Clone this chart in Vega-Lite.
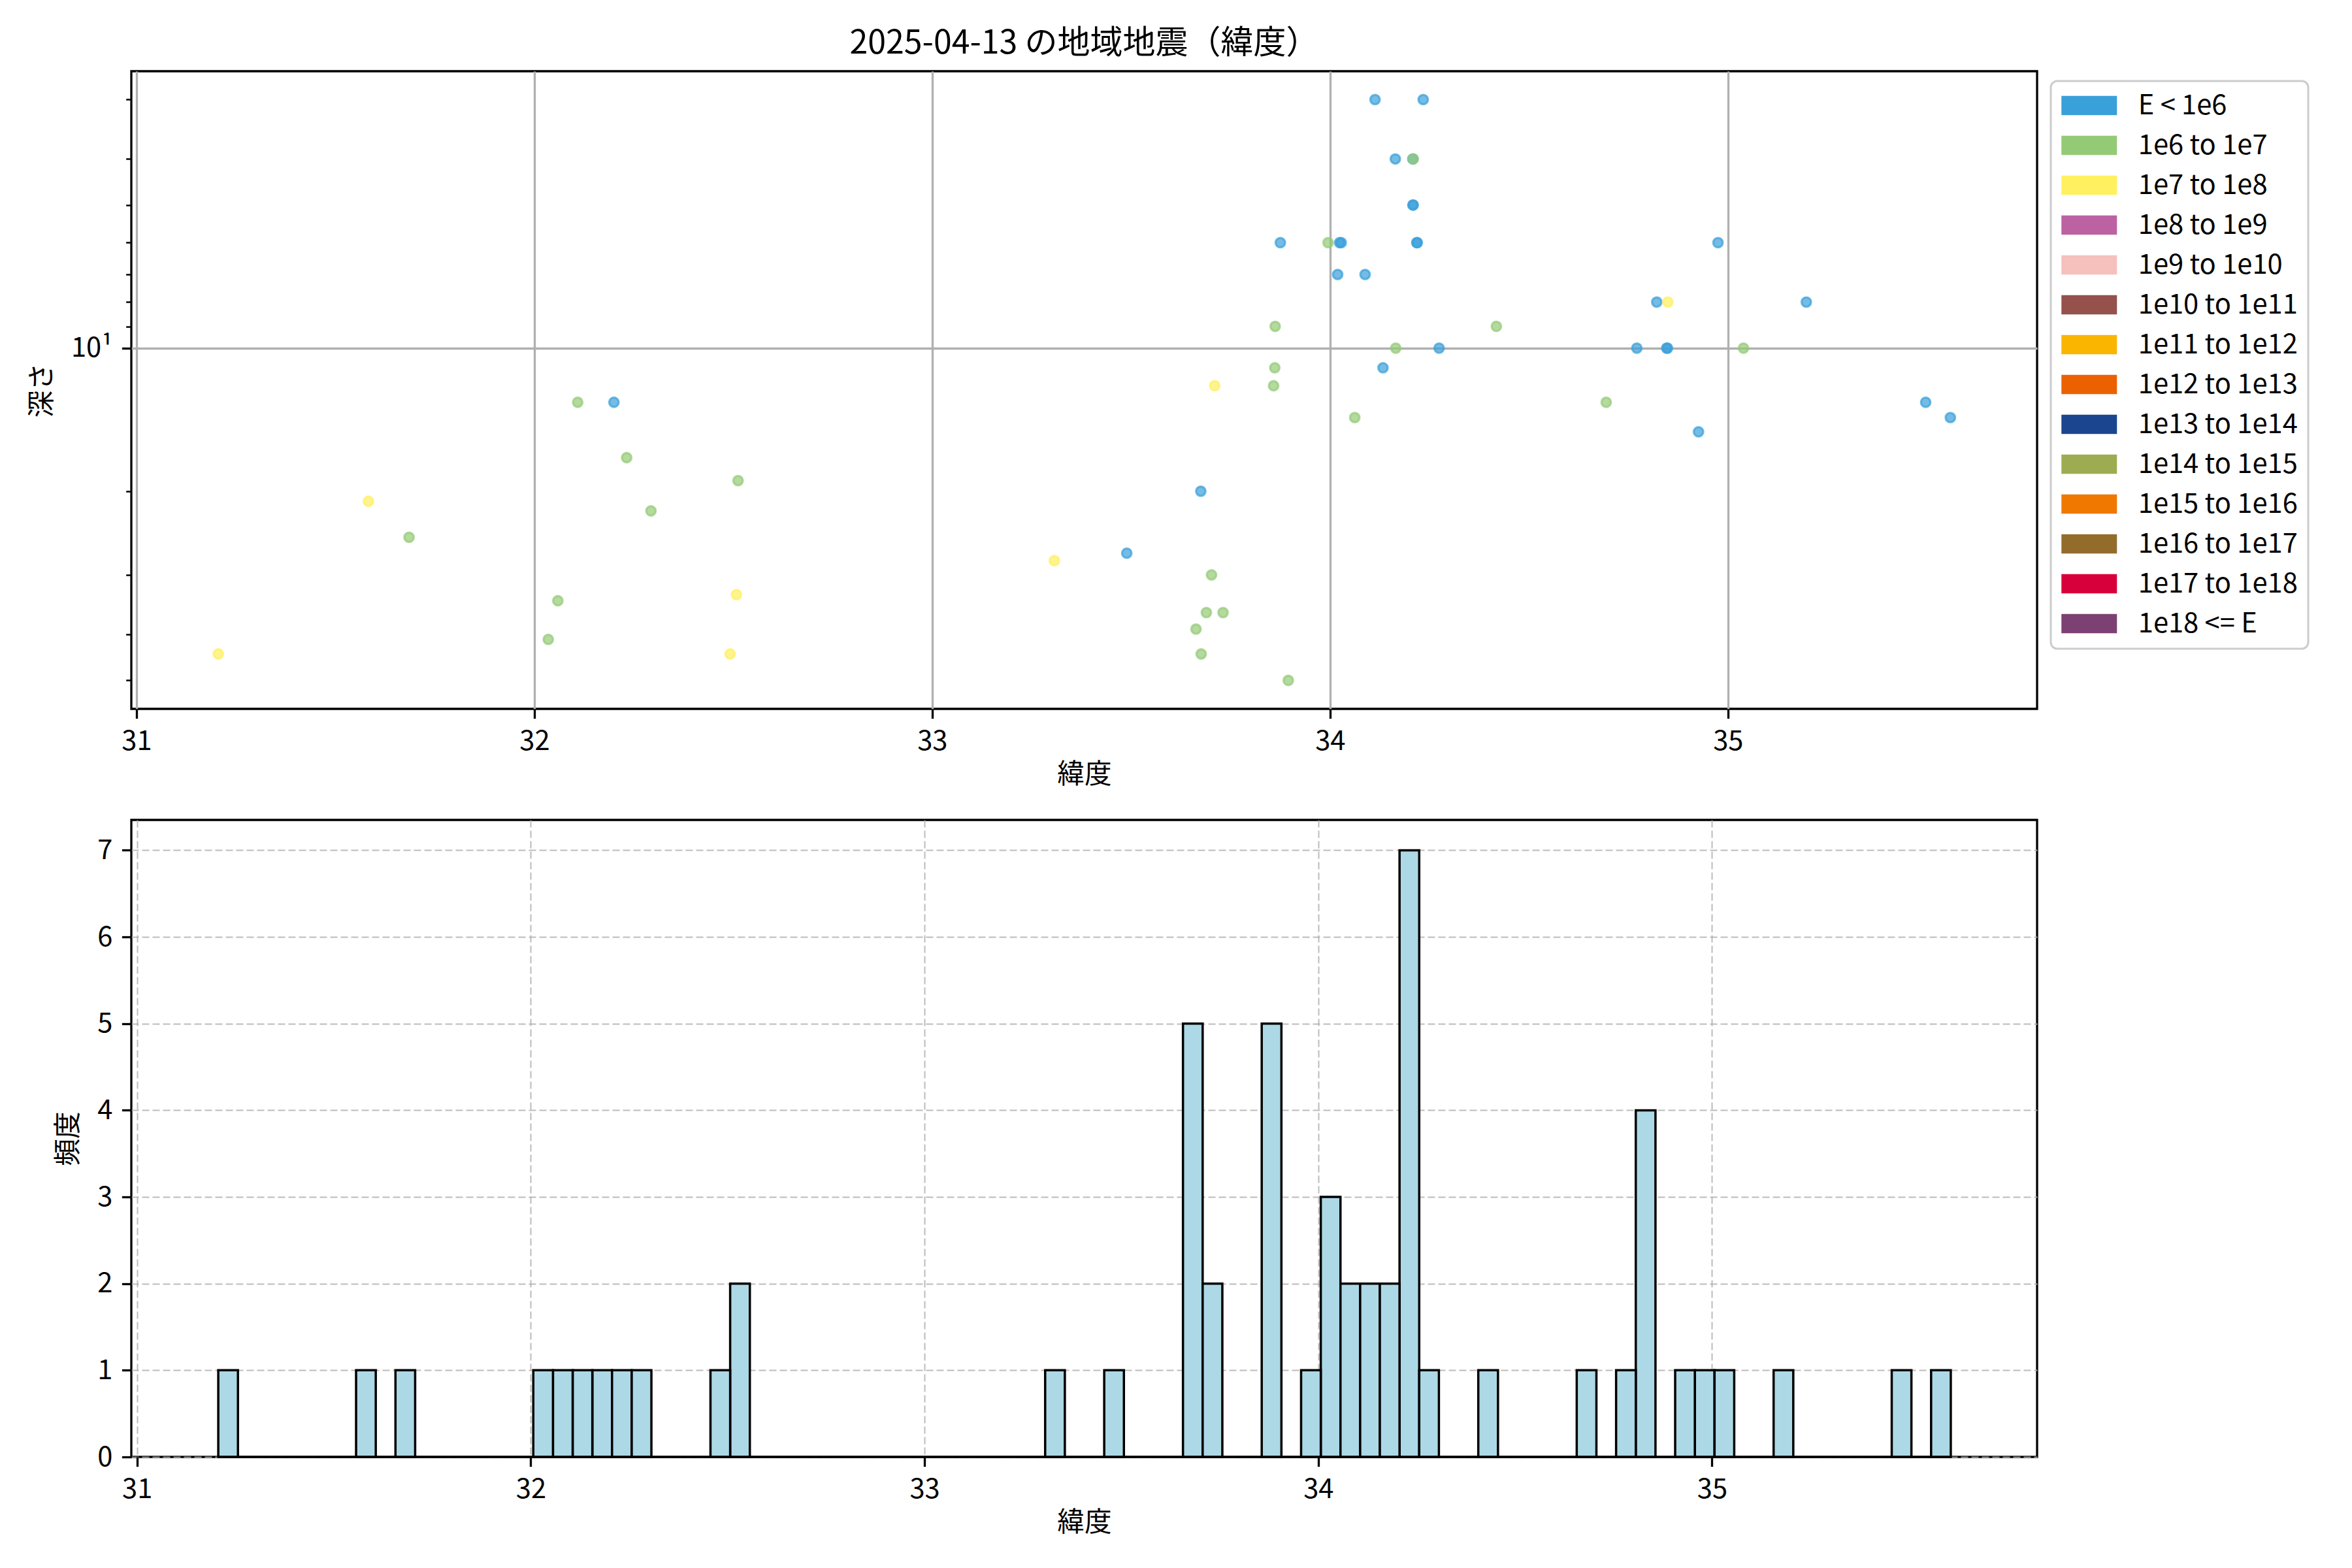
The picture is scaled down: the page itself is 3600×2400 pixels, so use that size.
{
  "$schema": "https://vega.github.io/schema/vega-lite/v6.json",
  "background": "white",
  "padding": {"left": 42, "top": 40, "right": 5, "bottom": 5},
  "config": {
    "font": "Noto Sans CJK JP",
    "view": {"stroke": "black", "strokeWidth": 3.3},
    "axis": {
      "labelFont": "Noto Sans CJK JP",
      "titleFont": "Noto Sans CJK JP",
      "labelFontSize": 41.7,
      "titleFontSize": 41.7,
      "titleFontWeight": "normal",
      "labelColor": "black",
      "titleColor": "black",
      "tickColor": "black",
      "domain": false,
      "tickSize": 14.6,
      "tickWidth": 3.3,
      "labelPadding": 14.6,
      "zindex": 1
    },
    "legend": {
      "labelFont": "Noto Sans CJK JP",
      "strokeWidth": 3
    }
  },
  "datasets": {
    "quakes": [
      {"lat": 32.200, "depth": 13, "class": "E < 1e6"},
      {"lat": 33.875, "depth": 6, "class": "E < 1e6"},
      {"lat": 34.024, "depth": 6, "class": "E < 1e6"},
      {"lat": 34.028, "depth": 6, "class": "E < 1e6"},
      {"lat": 34.019, "depth": 7, "class": "E < 1e6"},
      {"lat": 34.088, "depth": 7, "class": "E < 1e6"},
      {"lat": 33.675, "depth": 20, "class": "E < 1e6"},
      {"lat": 33.489, "depth": 27, "class": "E < 1e6"},
      {"lat": 34.113, "depth": 3, "class": "E < 1e6"},
      {"lat": 34.234, "depth": 3, "class": "E < 1e6"},
      {"lat": 34.164, "depth": 4, "class": "E < 1e6"},
      {"lat": 34.208, "depth": 4, "class": "E < 1e6"},
      {"lat": 34.208, "depth": 5, "class": "E < 1e6"},
      {"lat": 34.209, "depth": 5, "class": "E < 1e6"},
      {"lat": 34.218, "depth": 6, "class": "E < 1e6"},
      {"lat": 34.219, "depth": 6, "class": "E < 1e6"},
      {"lat": 34.975, "depth": 6, "class": "E < 1e6"},
      {"lat": 34.821, "depth": 8, "class": "E < 1e6"},
      {"lat": 35.197, "depth": 8, "class": "E < 1e6"},
      {"lat": 34.274, "depth": 10, "class": "E < 1e6"},
      {"lat": 34.771, "depth": 10, "class": "E < 1e6"},
      {"lat": 34.846, "depth": 10, "class": "E < 1e6"},
      {"lat": 34.848, "depth": 10, "class": "E < 1e6"},
      {"lat": 34.133, "depth": 11, "class": "E < 1e6"},
      {"lat": 34.926, "depth": 15, "class": "E < 1e6"},
      {"lat": 35.497, "depth": 13, "class": "E < 1e6"},
      {"lat": 35.559, "depth": 14, "class": "E < 1e6"},
      {"lat": 31.685, "depth": 25, "class": "1e6 to 1e7"},
      {"lat": 32.109, "depth": 13, "class": "1e6 to 1e7"},
      {"lat": 32.232, "depth": 17, "class": "1e6 to 1e7"},
      {"lat": 32.512, "depth": 19, "class": "1e6 to 1e7"},
      {"lat": 32.293, "depth": 22, "class": "1e6 to 1e7"},
      {"lat": 32.059, "depth": 34, "class": "1e6 to 1e7"},
      {"lat": 32.035, "depth": 41, "class": "1e6 to 1e7"},
      {"lat": 33.995, "depth": 6, "class": "1e6 to 1e7"},
      {"lat": 33.862, "depth": 9, "class": "1e6 to 1e7"},
      {"lat": 33.861, "depth": 11, "class": "1e6 to 1e7"},
      {"lat": 33.858, "depth": 12, "class": "1e6 to 1e7"},
      {"lat": 34.062, "depth": 14, "class": "1e6 to 1e7"},
      {"lat": 33.702, "depth": 30, "class": "1e6 to 1e7"},
      {"lat": 33.689, "depth": 36, "class": "1e6 to 1e7"},
      {"lat": 33.731, "depth": 36, "class": "1e6 to 1e7"},
      {"lat": 33.663, "depth": 39, "class": "1e6 to 1e7"},
      {"lat": 33.676, "depth": 44, "class": "1e6 to 1e7"},
      {"lat": 33.895, "depth": 50, "class": "1e6 to 1e7"},
      {"lat": 34.209, "depth": 4, "class": "1e6 to 1e7"},
      {"lat": 34.418, "depth": 9, "class": "1e6 to 1e7"},
      {"lat": 34.165, "depth": 10, "class": "1e6 to 1e7"},
      {"lat": 35.039, "depth": 10, "class": "1e6 to 1e7"},
      {"lat": 34.694, "depth": 13, "class": "1e6 to 1e7"},
      {"lat": 31.2056, "depth": 44, "class": "1e7 to 1e8"},
      {"lat": 31.583, "depth": 21, "class": "1e7 to 1e8"},
      {"lat": 32.508, "depth": 33, "class": "1e7 to 1e8"},
      {"lat": 32.492, "depth": 44, "class": "1e7 to 1e8"},
      {"lat": 33.710, "depth": 12, "class": "1e7 to 1e8"},
      {"lat": 33.307, "depth": 28, "class": "1e7 to 1e8"},
      {"lat": 34.849, "depth": 8, "class": "1e7 to 1e8"}
    ]
  },
  "spacing": 170,
  "bounds": "flush",
  "resolve": {"legend": {"color": "independent", "stroke": "independent"}},
  "vconcat": [
    {
      "width": 2917,
      "height": 976,
      "title": {
        "text": "2025-04-13 の地域地震（緯度）",
        "font": "Noto Sans CJK JP",
        "fontSize": 50,
        "fontWeight": "normal",
        "color": "black",
        "frame": "group",
        "anchor": "middle",
        "baseline": "alphabetic",
        "offset": -23
      },
      "data": {"name": "quakes"},
      "mark": {"type": "circle", "size": 211, "fillOpacity": 0.7, "strokeOpacity": 0.7, "strokeWidth": 3.3},
      "encoding": {
        "x": {
          "field": "lat", "type": "quantitative", "title": "緯度",
          "scale": {"domain": [30.987, 35.777], "nice": false, "zero": false},
          "axis": {"values": [31, 32, 33, 34, 35], "format": "d", "grid": true, "gridColor": "#b0b0b0", "gridWidth": 3.3, "titlePadding": 10}
        },
        "y": {
          "field": "depth", "type": "quantitative", "title": "深さ",
          "scale": {"type": "log", "domain": [2.615, 57.4], "reverse": true, "nice": false},
          "axis": {
            "values": [3, 4, 5, 6, 7, 8, 9, 10, 20, 30, 40, 50],
            "labelExpr": "datum.value == 10 ? '10¹' : ''",
            "labelOverlap": false,
            "tickSize": {"condition": {"test": "datum.value == 10", "value": 14.6}, "value": 8.3},
            "tickWidth": {"condition": {"test": "datum.value == 10", "value": 3.3}, "value": 2.5},
            "grid": true, "gridColor": "#b0b0b0", "gridWidth": 3.3,
            "gridOpacity": {"condition": {"test": "datum.value == 10", "value": 1}, "value": 0},
            "titlePadding": 22
          }
        },
        "color": {
          "field": "class", "type": "nominal", "title": null,
          "scale": {
            "domain": ["E < 1e6", "1e6 to 1e7", "1e7 to 1e8", "1e8 to 1e9", "1e9 to 1e10", "1e10 to 1e11", "1e11 to 1e12", "1e12 to 1e13", "1e13 to 1e14", "1e14 to 1e15", "1e15 to 1e16", "1e16 to 1e17", "1e17 to 1e18", "1e18 <= E"],
            "range": ["#3AA0DA", "#94CA76", "#FFF060", "#BC62A3", "#F6C0BC", "#95514C", "#F9B500", "#EB6100", "#1B468F", "#9DAC50", "#F07800", "#936C2C", "#D8003A", "#7C4172"]
          },
          "legend": {
            "orient": "none",
            "legendX": 2938,
            "legendY": 15,
            "symbolType": "M-2,-0.7L2,-0.7L2,0.7L-2,0.7Z",
            "symbolSize": 1806,
            "symbolOffset": 21.25,
            "symbolStrokeWidth": 0,
            "symbolOpacity": 1,
            "labelFontSize": 41.7,
            "labelColor": "black",
            "labelOffset": 53.5,
            "labelLimit": 0,
            "rowPadding": 17,
            "padding": 16,
            "strokeColor": "#cccccc",
            "fillColor": "white",
            "cornerRadius": 10
          }
        },
        "stroke": {
          "field": "class", "type": "nominal", "legend": null,
          "scale": {
            "domain": ["E < 1e6", "1e6 to 1e7", "1e7 to 1e8", "1e8 to 1e9", "1e9 to 1e10", "1e10 to 1e11", "1e11 to 1e12", "1e12 to 1e13", "1e13 to 1e14", "1e14 to 1e15", "1e15 to 1e16", "1e16 to 1e17", "1e17 to 1e18", "1e18 <= E"],
            "range": ["#3AA0DA", "#94CA76", "#FFF060", "#BC62A3", "#F6C0BC", "#95514C", "#F9B500", "#EB6100", "#1B468F", "#9DAC50", "#F07800", "#936C2C", "#D8003A", "#7C4172"]
          }
        }
      }
    },
    {
      "width": 2917,
      "height": 975,
      "layer": [
        {
          "data": {"name": "quakes"},
          "mark": {"type": "bar", "fill": "#ADD8E6", "stroke": "black", "strokeWidth": 3.5, "binSpacing": 0},
          "encoding": {
            "x": {
              "field": "lat", "type": "quantitative", "title": "緯度",
              "bin": {"extent": [31.2055, 35.7055], "step": 0.05, "nice": false},
              "scale": {"domain": [30.9855, 35.8255], "nice": false, "zero": false},
              "axis": {"values": [31, 32, 33, 34, 35], "format": "d", "grid": true, "gridColor": "#b0b0b0", "gridWidth": 2, "gridDash": [11, 5], "gridOpacity": 0.85, "titlePadding": 10}
            },
            "y": {
              "aggregate": "count", "type": "quantitative", "title": "頻度",
              "scale": {"domain": [0, 7.35], "nice": false},
              "axis": {"values": [0, 1, 2, 3, 4, 5, 6, 7], "format": "d", "grid": true, "gridColor": "#b0b0b0", "gridWidth": 2, "gridDash": [11, 5], "gridOpacity": 0.85, "titlePadding": 22}
            }
          }
        },
        {
          "data": {"values": [{}]},
          "mark": {"type": "rule", "color": "black", "strokeWidth": 3.5},
          "encoding": {
            "x": {"datum": 31.2055},
            "x2": {"datum": 35.6055},
            "y": {"datum": 0}
          }
        }
      ]
    }
  ]
}
